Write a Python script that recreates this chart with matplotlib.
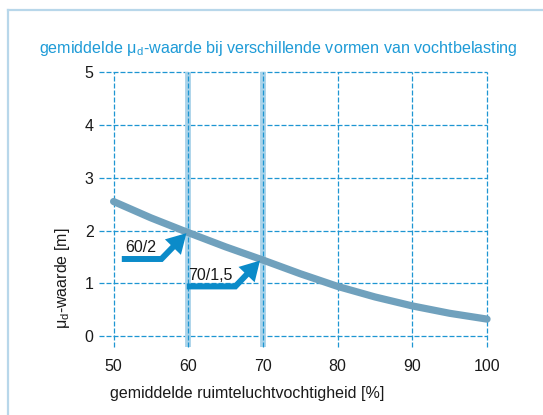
import matplotlib
matplotlib.use("Agg")
import matplotlib.pyplot as plt
from matplotlib.patches import FancyArrowPatch, ArrowStyle
from matplotlib.path import Path
from matplotlib.lines import Line2D

# ---- data ----
rh = [50, 55, 60, 65, 70, 75, 80, 85, 90, 95, 100]
mu_d = [2.55, 2.24, 1.96, 1.69, 1.44, 1.18, 0.94, 0.74, 0.57, 0.43, 0.32]
x_ticks = [50, 60, 70, 80, 90, 100]
y_ticks = [0, 1, 2, 3, 4, 5]
highlight_x = [60, 70]

arrow1_x = [51.1, 56.4, 59.75]
arrow1_y = [1.46, 1.46, 1.95]
arrow1_label = "60/2"
arrow2_x = [59.8, 66.3, 69.6]
arrow2_y = [0.94, 0.94, 1.43]
arrow2_label = "70/1,5"

title = "gemiddelde μ$_\\mathregular{d}$-waarde bij verschillende vormen van vochtbelasting"
xlabel = "gemiddelde ruimteluchtvochtigheid [%]"
ylabel = "μ$_\\mathregular{d}$-waarde [m]"

FONT = ["Liberation Sans", "DejaVu Sans"]
plt.rcParams["font.family"] = FONT
plt.rcParams["mathtext.fontset"] = "custom"

grid_c = "#1e96d2"
band_c = "#a9d3ea"
curve_c = "#70a1bd"
arrow_c = "#0b8bc9"
title_c = "#1e9bd7"
frame_c = "#b8d7ea"

fig = plt.figure(figsize=(5.43, 4.15), dpi=100)
ax = fig.add_axes([0.1748, 0.1523, 0.7359, 0.6988])
ax.set_xlim(47.5, 101)
ax.set_ylim(-0.3, 5.2)
for s in ax.spines.values():
    s.set_visible(False)

gx0, gy0 = 48.1, -0.2
for yv in y_ticks:
    ax.plot([gx0, x_ticks[-1]], [yv, yv], color=grid_c, lw=0.9,
            dashes=(4, 1.6), zorder=1)
for xv in x_ticks:
    if xv in highlight_x:
        ax.plot([xv, xv], [gy0, y_ticks[-1]], color=band_c, lw=4.2,
                solid_capstyle="butt", zorder=1)
    ax.plot([xv, xv], [gy0, y_ticks[-1]], color=grid_c, lw=0.9,
            dashes=(4, 1.6), zorder=2)

ax.plot(rh, mu_d, color=curve_c, lw=5.2, solid_capstyle="round",
        solid_joinstyle="round", zorder=3)

for xs, ys in [(arrow1_x, arrow1_y), (arrow2_x, arrow2_y)]:
    path = Path(list(zip(xs, ys)))
    arr = FancyArrowPatch(path=path,
                          arrowstyle=ArrowStyle("-|>", head_length=7.5, head_width=4.3),
                          mutation_scale=1, color=arrow_c, lw=4.3,
                          joinstyle="miter", capstyle="butt", zorder=4)
    ax.add_patch(arr)

ax.text(51.6, 1.68, arrow1_label, fontsize=11.5, ha="left", va="center",
        color="#1a1a1a", zorder=5)
ax.text(60.0, 1.15, arrow2_label, fontsize=11.5, ha="left", va="center",
        color="#1a1a1a", zorder=5)

ax.set_xticks(x_ticks)
ax.set_yticks(y_ticks)
ax.set_xticklabels([str(v) for v in x_ticks])
ax.set_yticklabels([str(v) for v in y_ticks])
ax.tick_params(length=0, labelsize=11.5, colors="#1a1a1a")
ax.tick_params(axis="x", pad=5)
ax.tick_params(axis="y", pad=1)

fig.text(278 / 543, 1 - 48.5 / 415, title, fontsize=11.6, color=title_c,
         ha="center", va="center")
fig.text(0.455, 1 - 393.5 / 415, xlabel, fontsize=11.5, color="#1a1a1a",
         ha="center", va="center")
fig.text(62 / 543, 1 - 278 / 415, ylabel, fontsize=11.5, color="#1a1a1a",
         ha="center", va="center", rotation=90)

fig.add_artist(Line2D([8 / 543, 1], [1 - 10 / 415, 1 - 10 / 415],
                      color=frame_c, lw=1.6, transform=fig.transFigure))
fig.add_artist(Line2D([8 / 543, 8 / 543], [0, 1 - 10 / 415],
                      color=frame_c, lw=1.6, transform=fig.transFigure))

fig.savefig("out.png", dpi=100)
